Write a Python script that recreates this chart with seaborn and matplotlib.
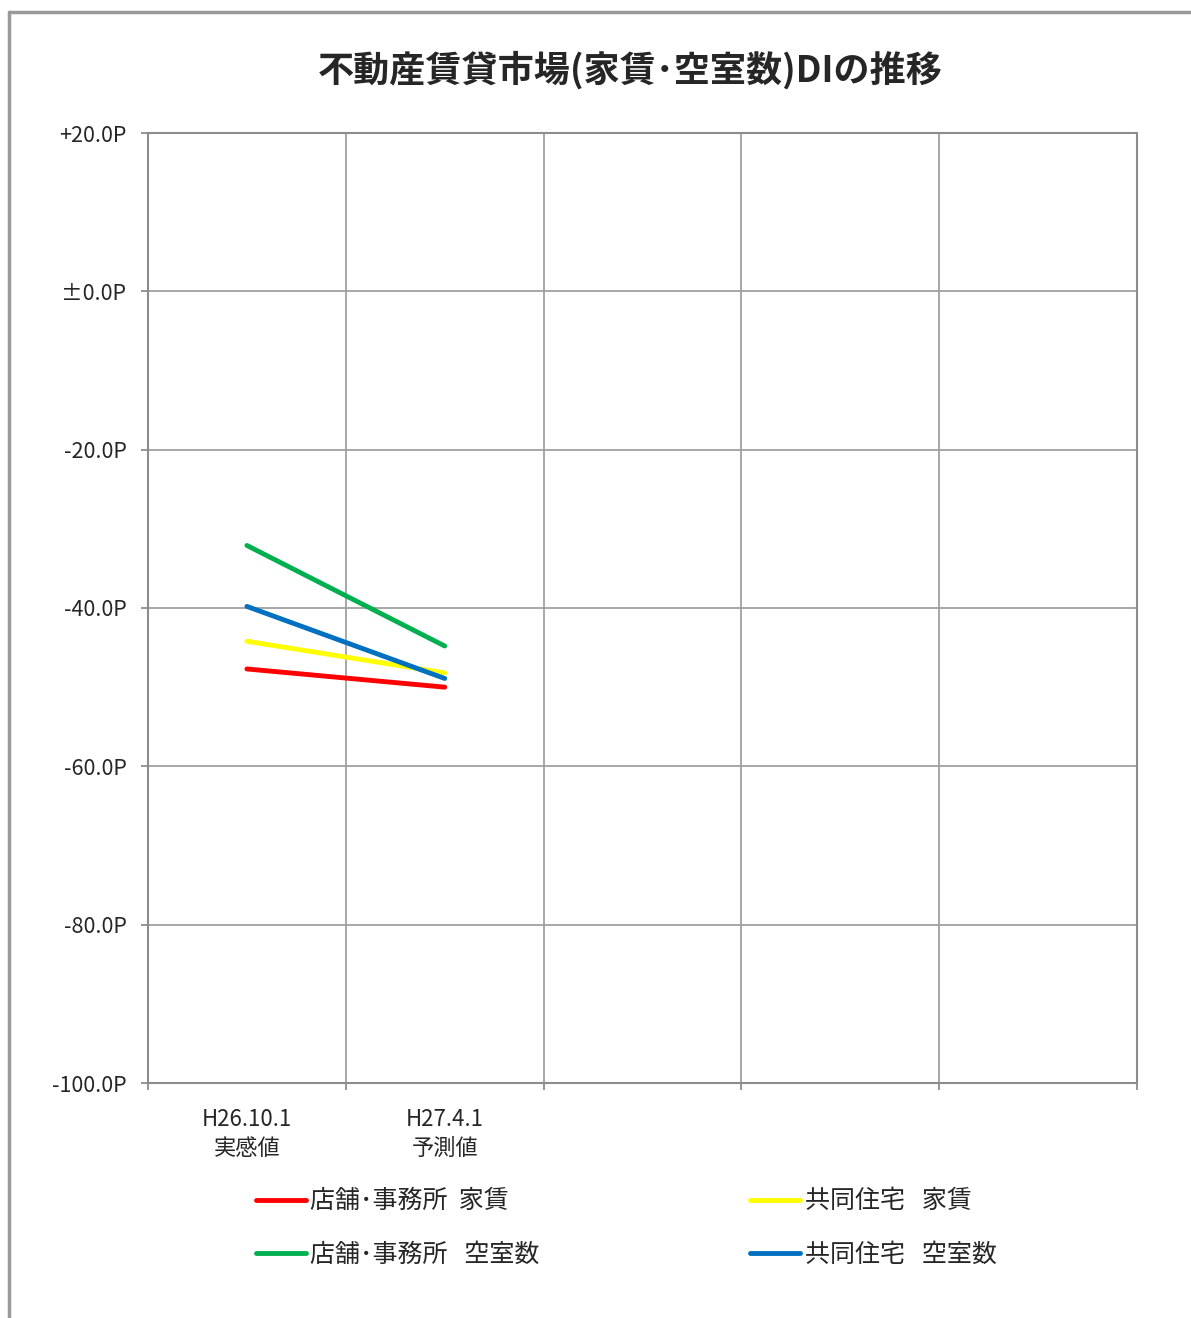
import numpy as np
import pandas as pd
import matplotlib
matplotlib.use("Agg")
import matplotlib.pyplot as plt
import seaborn as sns
from matplotlib.lines import Line2D

# データ (読み取り値)
categories = ["H26.10.1\n実感値", "H27.4.1\n予測値", "", "", ""]
series_names = ["店舗･事務所  家賃", "店舗･事務所   空室数", "共同住宅   家賃", "共同住宅   空室数"]
shop_rent = [-47.7, -50.0]
shop_vacancy = [-32.1, -44.8]
apt_rent = [-44.2, -48.2]
apt_vacancy = [-39.8, -48.9]
y_ticks = [20, 0, -20, -40, -60, -80, -100]
y_tick_labels = ["+20.0P", "±0.0P", "-20.0P", "-40.0P", "-60.0P", "-80.0P", "-100.0P"]

colors = ["#FF0000", "#00B050", "#FFFF00", "#0070C0"]

rows = []
for name, vals in zip(series_names, [shop_rent, shop_vacancy, apt_rent, apt_vacancy]):
    for i, v in enumerate(vals):
        rows.append({"pos": i, "value": v, "series": name})
df = pd.DataFrame(rows)

sns.set_style("white")
plt.rcParams["font.family"] = ["Noto Sans CJK JP", "DejaVu Sans"]

fig = plt.figure(figsize=(11.91, 13.18), dpi=100)
ax = fig.add_axes([148 / 1191, 1 - 1083 / 1318, (1137 - 148) / 1191, (1083 - 133) / 1318])

sns.lineplot(data=df, x="pos", y="value", hue="series", hue_order=series_names,
             palette=colors, linewidth=3.5, ax=ax, legend=False,
             solid_capstyle="round")

ax.set_xlim(-0.5, len(categories) - 0.5)
ax.set_ylim(-100, 20)

grid_c = "#A0A0A0"
# 縦の目盛線はカテゴリの境界
for xb in np.arange(-0.5, len(categories), 1.0):
    ax.axvline(xb, color=grid_c, lw=1.3, zorder=0)
for yt in y_ticks:
    ax.axhline(yt, color=grid_c, lw=1.3, zorder=0)

for s in ax.spines.values():
    s.set_color("#8C8C8C")
    s.set_linewidth(1.5)

ax.set_yticks(y_ticks)
ax.set_yticklabels(y_tick_labels)
ax.set_xticks(range(len(categories)))
ax.set_xticklabels(categories, linespacing=1.35)
ax.set_xticks(np.arange(-0.5, len(categories), 1.0), minor=True)
ax.tick_params(axis="y", which="major", direction="out", length=5, width=1.3,
               color="#8C8C8C", labelsize=15.5, pad=10.5, left=True)
ax.tick_params(axis="x", which="major", length=0, labelsize=16, pad=18)
ax.tick_params(axis="x", which="minor", direction="out", length=5, width=1.3,
               color="#8C8C8C", bottom=True)
ax.set_xlabel("")
ax.set_ylabel("")

fig.text(630 / 1191, 1 - 70 / 1318, "不動産賃貸市場(家賃･空室数)DIの推移",
         ha="center", va="center", fontsize=26, fontweight="bold")

handles = [Line2D([], [], color=c, lw=3.5, solid_capstyle="round") for c in colors]
fig.legend(handles, series_names, ncol=2, loc="center left",
           bbox_to_anchor=(233 / 1191, 1 - 1228 / 1318), frameon=False,
           fontsize=18, handlelength=2.0, handletextpad=0.2,
           columnspacing=8.4, labelspacing=1.1)

# 外枠
fig.add_artist(Line2D([9 / 1191, 9 / 1191], [0, 1 - 12 / 1318], color="#9A9A9A", lw=2.5))
fig.add_artist(Line2D([9 / 1191, 1], [1 - 12 / 1318, 1 - 12 / 1318], color="#9A9A9A", lw=2.5))

fig.savefig("out.png", dpi=100)
